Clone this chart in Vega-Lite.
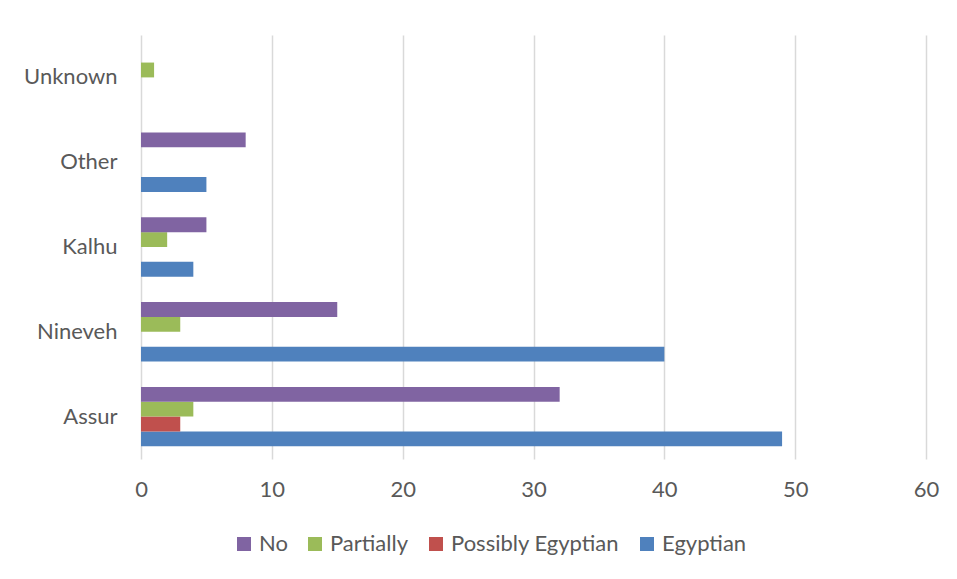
{
  "$schema": "https://vega.github.io/schema/vega-lite/v6.json",
  "autosize": {"type": "none"},
  "width": 785,
  "height": 424,
  "padding": {"left": 141, "top": 35, "right": 31, "bottom": 120},
  "background": "white",
  "config": {
    "view": {"stroke": null},
    "font": "Lato",
    "axis": {"labelFont": "Lato", "labelColor": "#595959", "labelFontSize": 22},
    "legend": {"labelFont": "Lato", "labelColor": "#595959", "labelFontSize": 22}
  },
  "data": {
    "values": [
      {"site": "Assur", "status": "Egyptian", "count": 49},
      {"site": "Assur", "status": "Possibly Egyptian", "count": 3},
      {"site": "Assur", "status": "Partially", "count": 4},
      {"site": "Assur", "status": "No", "count": 32},
      {"site": "Nineveh", "status": "Egyptian", "count": 40},
      {"site": "Nineveh", "status": "Partially", "count": 3},
      {"site": "Nineveh", "status": "No", "count": 15},
      {"site": "Kalhu", "status": "Egyptian", "count": 4},
      {"site": "Kalhu", "status": "Partially", "count": 2},
      {"site": "Kalhu", "status": "No", "count": 5},
      {"site": "Other", "status": "Egyptian", "count": 5},
      {"site": "Other", "status": "No", "count": 8},
      {"site": "Unknown", "status": "Partially", "count": 1}
    ]
  },
  "mark": {"type": "bar"},
  "encoding": {
    "y": {
      "field": "site",
      "type": "nominal",
      "sort": ["Unknown", "Other", "Kalhu", "Nineveh", "Assur"],
      "scale": {"paddingInner": 0.3, "paddingOuter": 0.15},
      "axis": {"title": null, "ticks": false, "domain": false, "labelPadding": 24}
    },
    "yOffset": {
      "field": "status",
      "type": "nominal",
      "sort": ["No", "Partially", "Possibly Egyptian", "Egyptian"],
      "scale": {"domain": ["No", "Partially", "Possibly Egyptian", "Egyptian"], "paddingInner": 0, "paddingOuter": 0}
    },
    "x": {
      "field": "count",
      "type": "quantitative",
      "scale": {"domain": [0, 60], "nice": false},
      "axis": {
        "title": null,
        "values": [0, 10, 20, 30, 40, 50, 60],
        "ticks": false,
        "domain": false,
        "grid": true,
        "gridColor": "#d9d9d9",
        "gridWidth": 1.5,
        "labelFlush": false,
        "labelPadding": 20
      }
    },
    "color": {
      "field": "status",
      "type": "nominal",
      "scale": {
        "domain": ["No", "Partially", "Possibly Egyptian", "Egyptian"],
        "range": ["#8064A2", "#9BBB59", "#C0504D", "#4F81BD"]
      },
      "legend": {
        "title": null,
        "orient": "none",
        "direction": "horizontal",
        "legendX": 92,
        "legendY": 498,
        "padding": 0,
        "symbolType": "square",
        "symbolSize": 196,
        "symbolStrokeWidth": 0,
        "symbolOpacity": 1,
        "labelOffset": 4,
        "labelLimit": 400,
        "columnPadding": 16
      }
    }
  }
}
